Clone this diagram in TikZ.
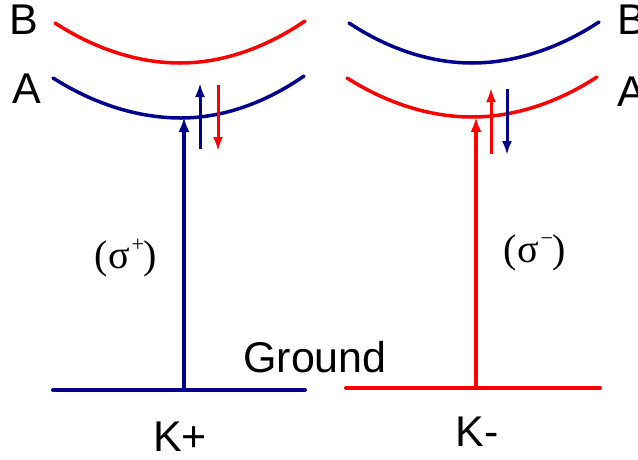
\documentclass[tikz,border=0pt]{standalone}
\usepackage{fontspec}
\setmainfont{Liberation Sans}
\newfontfamily\greekserif{Liberation Serif}
\usepackage{xcolor}
\usepackage{tikz}
\usetikzlibrary{arrows.meta, calc}
\definecolor{kblue}{RGB}{0,0,140}
\definecolor{kred}{RGB}{255,0,0}
\newcommand{\polsup}[1]{\kern2pt\raisebox{17pt}{\fontsize{22}{22}\selectfont #1}}

\begin{document}
\begin{tikzpicture}[x=1pt, y=-1pt,
    band/.style={line width=3.5pt, line cap=round},
    level/.style={line width=4pt, line cap=round},
    pump/.style={-{Latex[length=15pt,width=11pt]}, line width=3.5pt},
    relax/.style={-{Latex[length=14pt,width=10pt]}, line width=3pt},
    lab/.style={font=\fontsize{43}{50}\selectfont, inner sep=0pt},
    pol/.style={font=\greekserif\fontsize{40}{48}\selectfont, inner sep=0pt}
  ]
  \useasboundingbox (0,0) rectangle (638,459);

  % --- LEFT VALLEY: K+ ---
  \draw[band, kred] (55,23) parabola bend (180,63) (305,21);
  \draw[band, kblue] (53,78) parabola bend (181,118) (304,76);
  \draw[level, kblue] (53,390) -- (305,390);

  \coordinate (gKp) at (184,390);
  \coordinate (aKp) at (184,117);
  \coordinate (upKp) at (200,149);
  \coordinate (upKpTip) at (200,83);
  \coordinate (dnKp) at (218,85);
  \coordinate (dnKpTip) at (218,151);

  \draw[pump, kblue] (gKp) -- (aKp);
  \draw[relax, kblue] (upKp) -- (upKpTip);
  \draw[relax, kred] (dnKp) -- (dnKpTip);

  \node[lab] (Bl) at (24,20) {B};
  \node[lab] (Al) at (27,89) {A};
  \node[pol] (sigP) at (126,258) {(σ\polsup{+})};
  \node[lab, anchor=base] (Kp) at (180,451) {K+};

  % --- RIGHT VALLEY: K- ---
  \draw[band, kblue] (349,23) parabola bend (472,63) (599,22);
  \draw[band, kred] (347,78) parabola bend (472,117) (597,77);
  \draw[level, kred] (346,388) -- (600,388);

  \coordinate (gKm) at (476,388);
  \coordinate (aKm) at (476,117);
  \coordinate (upKm) at (491,154);
  \coordinate (upKmTip) at (491,88);
  \coordinate (dnKm) at (507,89);
  \coordinate (dnKmTip) at (507,155);

  \draw[pump, kred] (gKm) -- (aKm);
  \draw[relax, kred] (upKm) -- (upKmTip);
  \draw[relax, kblue] (dnKm) -- (dnKmTip);

  \node[lab, anchor=west] (Br) at (617,20) {B};
  \node[lab, anchor=west] (Ar) at (617,92) {A};
  \node[pol] (sigM) at (535,253) {(σ\polsup{−})};
  \node[lab, anchor=base] (Km) at (477,446) {K-};

  % shared label
  \node[lab, anchor=base] (gnd) at (315,372) {Ground};
\end{tikzpicture}
\end{document}
